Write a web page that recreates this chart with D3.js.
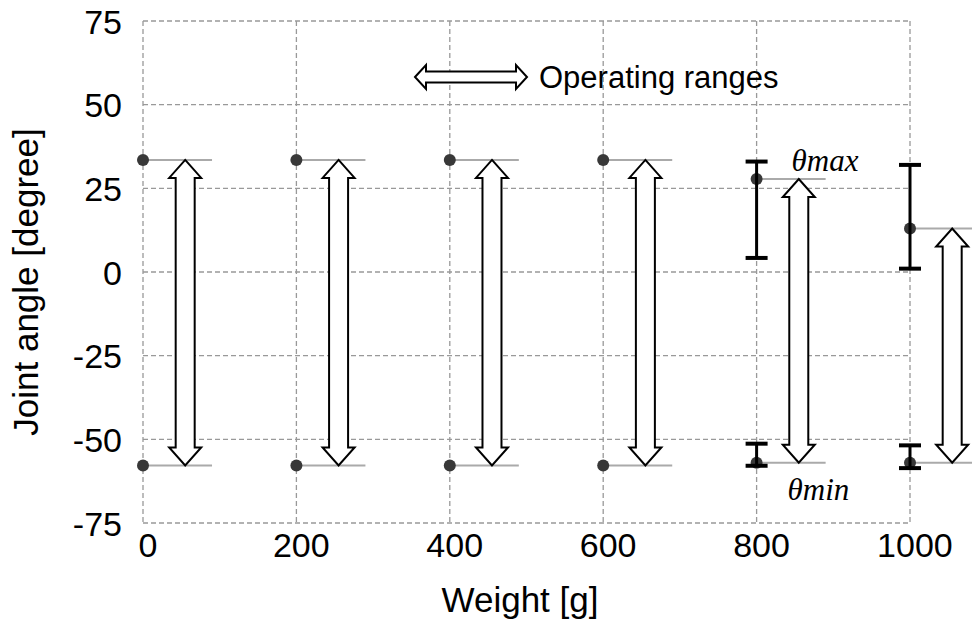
<!DOCTYPE html>
<html>
<head>
<meta charset="utf-8">
<script src="https://cdn.jsdelivr.net/npm/d3@7"></script>
<style>
  body { margin: 0; background: #fff; }
  text { font-family: "Liberation Sans", Arial, sans-serif; fill: #000; }
</style>
</head>
<body>
<div id="chart"></div>
<script>
// data
var weights  = [0, 200, 400, 600, 800, 1000];
var thetaMax = [33.5, 33.5, 33.5, 33.5, 27.8, 13];
var thetaMin = [-57.8, -57.8, -57.8, -57.8, -57, -57];
// error bars only measured for the heavy weights
var errWeights = [800, 1000];
var maxErrLow  = [4.2, 1];
var maxErrHigh = [33, 32];
var minErrLow  = [-57.9, -58.6];
var minErrHigh = [-51.3, -51.8];

var xTicks = [0, 200, 400, 600, 800, 1000];
var yTicks = [-75, -50, -25, 0, 25, 50, 75];

// set the dimensions and margins of the graph
var margin = {top: 21, right: 62, bottom: 99, left: 143},
    width = 972 - margin.left - margin.right,
    height = 622 - margin.top - margin.bottom;

var svg = d3.select("#chart")
  .append("svg")
    .attr("width", 972)
    .attr("height", 622)
  .append("g")
    .attr("transform", "translate(" + margin.left + "," + margin.top + ")");

var x = d3.scaleLinear().domain([0, 1000]).range([0, width]);
var y = d3.scaleLinear().domain([-75, 75]).range([height, 0]);

// dashed grid (also forms the frame)
svg.selectAll(".hgrid")
  .data(yTicks)
  .enter()
  .append("line")
    .attr("x1", 0).attr("x2", width)
    .attr("y1", d => y(d)).attr("y2", d => y(d))
    .style("stroke", "#999")
    .style("stroke-width", 1.3)
    .style("stroke-dasharray", "5,3");

svg.selectAll(".vgrid")
  .data(xTicks)
  .enter()
  .append("line")
    .attr("x1", d => x(d)).attr("x2", d => x(d))
    .attr("y1", 0).attr("y2", height)
    .style("stroke", "#999")
    .style("stroke-width", 1.3)
    .style("stroke-dasharray", "5,3");

// axes (labels only)
var yAxis = svg.append("g")
  .call(d3.axisLeft(y).tickValues(yTicks).tickFormat(d => String(d)).tickSize(0).tickPadding(21));
yAxis.select(".domain").remove();
yAxis.selectAll("text")
  .attr("dy", "0.36em")
  .style("font-size", "34px").style("font-family", "Liberation Sans, Arial, sans-serif");

var xAxis = svg.append("g")
  .attr("transform", "translate(0," + height + ")")
  .call(d3.axisBottom(x).tickValues(xTicks).tickFormat(d => String(d)).tickSize(0).tickPadding(10));
xAxis.select(".domain").remove();
xAxis.selectAll("text")
  .attr("dx", "0.13em")
  .style("font-size", "34px").style("font-family", "Liberation Sans, Arial, sans-serif");

// axis titles
svg.append("text")
  .attr("x", 520 - margin.left)
  .attr("y", 612 - margin.top)
  .attr("text-anchor", "middle")
  .style("font-size", "35px")
  .text("Weight [g]");

svg.append("text")
  .attr("transform", "translate(" + (38 - margin.left) + "," + (282 - margin.top) + ") rotate(-90)")
  .attr("text-anchor", "middle")
  .style("font-size", "35px")
  .text("Joint angle [degree]");

var rows = weights.map((w, i) => ({w: w, max: thetaMax[i], min: thetaMin[i]}));
var lineLen = 90;     // gray reference line length, in weight units
var arrowOff = 55;    // arrow offset to the right of the point, in weight units

// gray reference lines
["max", "min"].forEach(function(k) {
  svg.selectAll(".ref-" + k)
    .data(rows)
    .enter()
    .append("line")
      .attr("x1", d => x(d.w)).attr("x2", d => x(d.w + lineLen))
      .attr("y1", d => y(d[k])).attr("y2", d => y(d[k]))
      .style("stroke", "#aaa")
      .style("stroke-width", 2);
});

// points
["max", "min"].forEach(function(k) {
  svg.selectAll(".pt-" + k)
    .data(rows)
    .enter()
    .append("circle")
      .attr("cx", d => x(d.w))
      .attr("cy", d => y(d[k]))
      .attr("r", 6)
      .style("fill", "#383838");
});

// error bars
var errs = [];
errWeights.forEach(function(w, i) {
  errs.push({w: w, lo: maxErrLow[i], hi: maxErrHigh[i]});
  errs.push({w: w, lo: minErrLow[i], hi: minErrHigh[i]});
});
var eb = svg.selectAll(".err").data(errs).enter().append("g");
eb.append("line")
  .attr("x1", d => x(d.w)).attr("x2", d => x(d.w))
  .attr("y1", d => y(d.hi)).attr("y2", d => y(d.lo))
  .style("stroke", "#000").style("stroke-width", 3);
["hi", "lo"].forEach(function(k) {
  eb.append("line")
    .attr("x1", d => x(d.w) - 11).attr("x2", d => x(d.w) + 11)
    .attr("y1", d => y(d[k])).attr("y2", d => y(d[k]))
    .style("stroke", "#000").style("stroke-width", 4);
});

// double arrows (operating ranges)
function vArrow(cx, y1, y2) {
  var sw = 9.5, hw = 16, hl = 18;
  return "M" + cx + "," + y1 +
    "L" + (cx + hw) + "," + (y1 + hl) +
    "L" + (cx + sw) + "," + (y1 + hl) +
    "L" + (cx + sw) + "," + (y2 - hl) +
    "L" + (cx + hw) + "," + (y2 - hl) +
    "L" + cx + "," + y2 +
    "L" + (cx - hw) + "," + (y2 - hl) +
    "L" + (cx - sw) + "," + (y2 - hl) +
    "L" + (cx - sw) + "," + (y1 + hl) +
    "L" + (cx - hw) + "," + (y1 + hl) + "Z";
}
svg.selectAll(".range")
  .data(rows)
  .enter()
  .append("path")
    .attr("d", d => vArrow(x(d.w + arrowOff), y(d.max), y(d.min)))
    .style("fill", "#fff")
    .style("stroke", "#000")
    .style("stroke-width", 2)
    .style("stroke-linejoin", "miter");

// theta labels
svg.append("text")
  .attr("x", x(800) + 35)
  .attr("y", y(thetaMax[4]) - 8)
  .style("font-family", "Liberation Serif, Times New Roman, serif")
  .style("font-style", "italic")
  .style("font-size", "31px")
  .text("θmax");

svg.append("text")
  .attr("x", x(800) + 31)
  .attr("y", y(thetaMin[4]) + 37)
  .style("font-family", "Liberation Serif, Times New Roman, serif")
  .style("font-style", "italic")
  .style("font-size", "31px")
  .text("θmin");

// legend
var legend = svg.append("g")
  .attr("transform", "translate(" + (415 - margin.left) + "," + (77 - margin.top) + ")");
function hArrow(x1, x2) {
  var sh = 5.5, hh = 12, hl = 11;
  return "M" + x1 + ",0" +
    "L" + (x1 + hl) + "," + (-hh) +
    "L" + (x1 + hl) + "," + (-sh) +
    "L" + (x2 - hl) + "," + (-sh) +
    "L" + (x2 - hl) + "," + (-hh) +
    "L" + x2 + ",0" +
    "L" + (x2 - hl) + "," + hh +
    "L" + (x2 - hl) + "," + sh +
    "L" + (x1 + hl) + "," + sh +
    "L" + (x1 + hl) + "," + hh + "Z";
}
legend.append("path")
  .attr("d", hArrow(0, 112))
  .style("fill", "#fff")
  .style("stroke", "#000")
  .style("stroke-width", 2);
legend.append("text")
  .attr("x", 124)
  .attr("y", 11)
  .style("font-size", "31px")
  .text("Operating ranges");
</script>
</body>
</html>
